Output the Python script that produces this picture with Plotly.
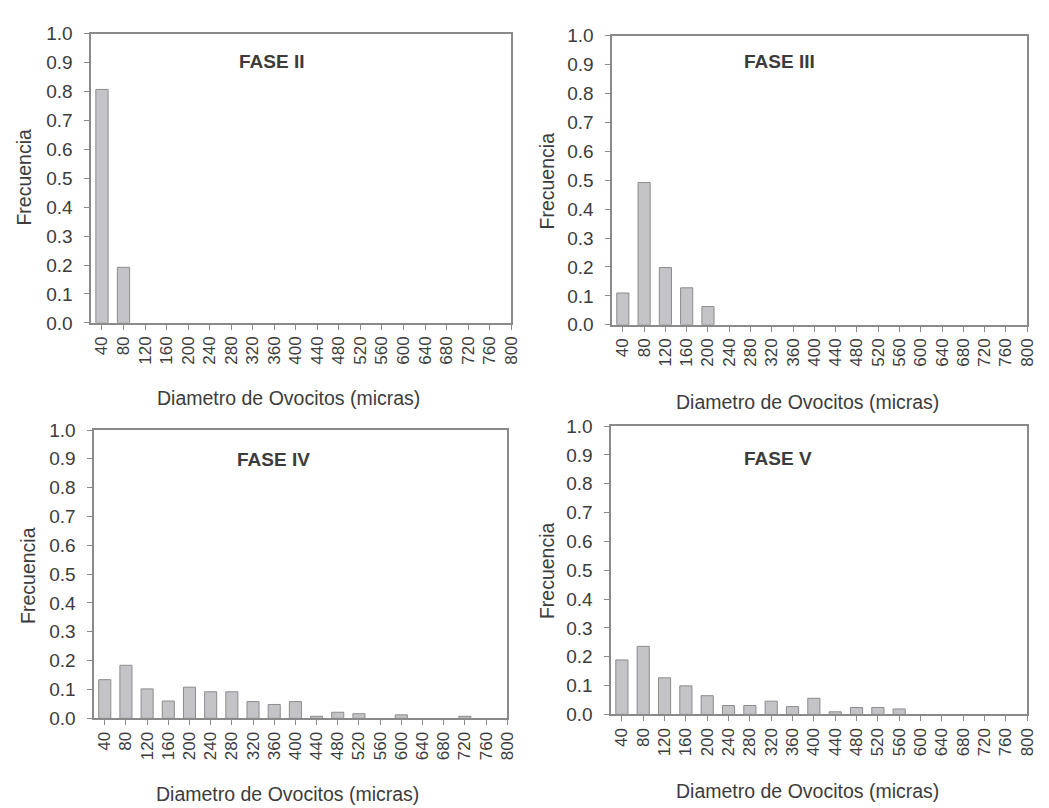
import plotly.graph_objects as go

categories = [str(v) for v in range(40, 801, 40)]

fase_ii = [0.807, 0.192, 0, 0, 0, 0, 0, 0, 0, 0, 0, 0, 0, 0, 0, 0, 0, 0, 0, 0]
fase_iii = [0.110, 0.492, 0.198, 0.128, 0.063, 0, 0, 0, 0, 0, 0, 0, 0, 0, 0, 0, 0, 0, 0, 0]
fase_iv = [0.134, 0.184, 0.102, 0.060, 0.108, 0.092, 0.092, 0.058, 0.048, 0.058,
           0.007, 0.021, 0.016, 0, 0.012, 0, 0, 0.007, 0, 0]
fase_v = [0.189, 0.236, 0.127, 0.099, 0.065, 0.031, 0.031, 0.046, 0.027, 0.056,
          0.009, 0.024, 0.024, 0.019, 0, 0, 0, 0, 0, 0]

panels = [
    ("FASE II", fase_ii),
    ("FASE III", fase_iii),
    ("FASE IV", fase_iv),
    ("FASE V", fase_v),
]

W, H = 1049, 808
# plot-area pixel boxes (left, right, top, bottom)
boxes = [
    (84, 508, 16, 313),
    (610, 1029, 18, 315),
    (87, 504, 423, 719),
    (609, 1029, 419, 715),
]
title_pos = [(266, 45), (779, 45), (268, 453), (777, 452)]
ytitle_pos = [(16, 163), (544, 167), (20, 572), (544, 567)]
xtitle_pos = [(283, 390), (807, 394), (282, 797), (807, 794)]

TXT = "#3c3c3c"
AX = "#8a8a8a"
FONT = "Arial, Liberation Sans, sans-serif"

fig = go.Figure()
annotations = []
for i, ((name, vals), (l, r, t, b)) in enumerate(zip(panels, boxes)):
    n = "" if i == 0 else str(i + 1)
    fig.add_trace(go.Bar(
        x=categories, y=vals, xaxis="x" + n, yaxis="y" + n,
        marker=dict(color="#c4c4c8",
                    line=dict(color="#8c8c8c", width=[1 if v > 0 else 0 for v in vals])),
        showlegend=False,
    ))
    fig.update_layout(**{
        "xaxis" + n: dict(
            domain=[l / W, r / W], anchor="y" + n, type="category",
            range=[-0.5, 19], tickmode="linear", tick0=0, dtick=1,
            showline=True, linecolor=AX, linewidth=1.5,
            mirror=True, ticks="outside", ticklen=5, tickcolor=AX,
            tickangle=-90, showgrid=False, zeroline=False,
            tickfont=dict(size=17, color=TXT, family=FONT),
        ),
        "yaxis" + n: dict(
            domain=[1 - b / H, 1 - t / H], anchor="x" + n,
            range=[0, 1.0], dtick=0.1, tickformat=".1f",
            showline=True, linecolor=AX, linewidth=1.5, mirror=True,
            ticks="outside", ticklen=5, tickcolor=AX, showgrid=False,
            zeroline=False, ticklabelstandoff=8,
            tickfont=dict(size=19, color=TXT, family=FONT),
        ),
    })
    tx, ty = title_pos[i]
    annotations.append(dict(text="<b>" + name + "</b>", x=tx / W, y=1 - ty / H,
                            xref="paper", yref="paper", showarrow=False,
                            xanchor="center", yanchor="middle",
                            font=dict(size=19, color=TXT, family=FONT)))
    yx, yy = ytitle_pos[i]
    annotations.append(dict(text="Frecuencia", x=yx / W, y=1 - yy / H,
                            xref="paper", yref="paper", showarrow=False,
                            textangle=-90, xanchor="center", yanchor="middle",
                            font=dict(size=19.5, color=TXT, family=FONT)))
    xx, xy = xtitle_pos[i]
    annotations.append(dict(text="Diametro de Ovocitos (micras)", x=xx / W, y=1 - xy / H,
                            xref="paper", yref="paper", showarrow=False,
                            xanchor="center", yanchor="middle",
                            font=dict(size=19.5, color=TXT, family=FONT)))

fig.update_layout(
    width=W, height=H, margin=dict(l=0, r=0, t=0, b=0),
    paper_bgcolor="white", plot_bgcolor="white",
    bargap=0.43, annotations=annotations,
    font=dict(family=FONT, color=TXT),
)

fig.write_html("out.html")
